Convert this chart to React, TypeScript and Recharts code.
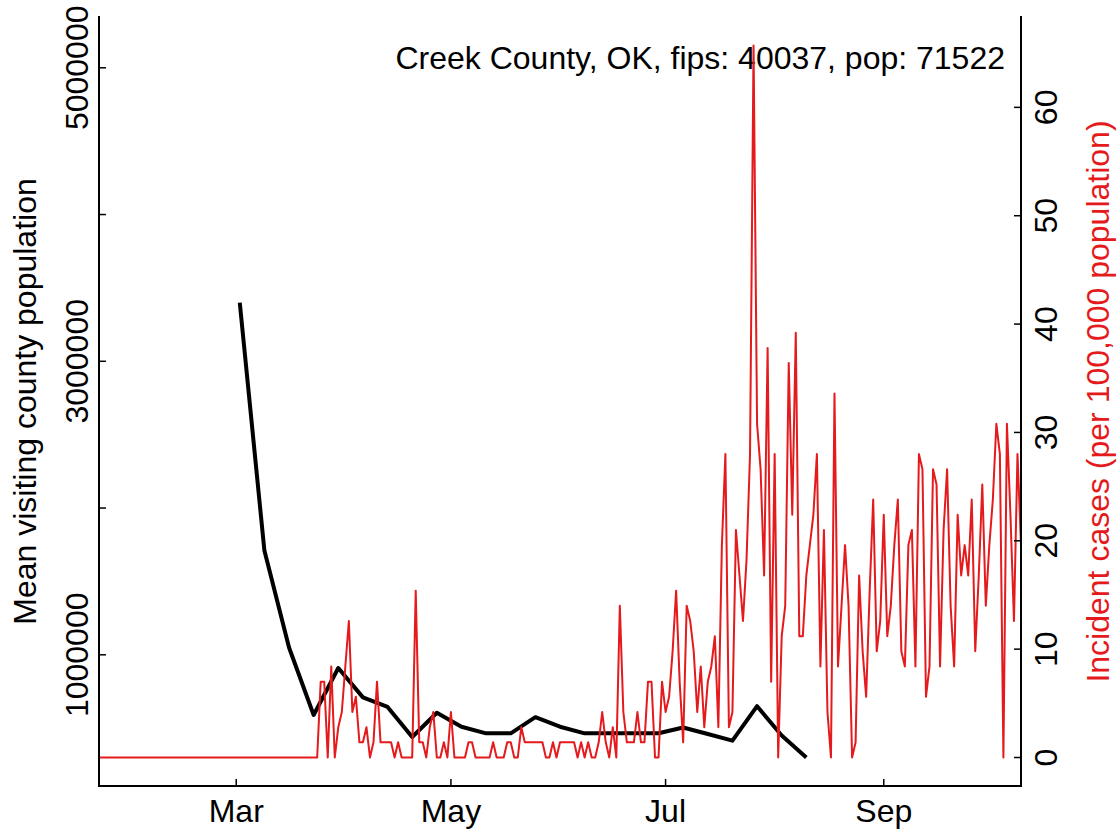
import React from 'react';
import { LineChart, Line, XAxis, YAxis } from 'recharts';

// daily incident cases per 100,000, starting Jan 22 (day 21 of 2020)
const firstDay = 21;
const incidence = [
  0, 0, 0, 0, 0, 0, 0, 0, 0, 0, 0, 0, 0, 0, 0, 0, 0, 0, 0, 0, 0,
  0, 0, 0, 0, 0, 0, 0, 0, 0, 0, 0, 0, 0, 0, 0, 0, 0, 0, 0, 0, 0,
  0, 0, 0, 0, 0, 0, 0, 0, 0, 0, 0, 0, 0, 0, 0, 0, 0, 0, 0, 0, 0,
  7.0, 7.0, 0, 8.4, 0, 2.8, 4.2, 8.4, 12.6, 4.2,
  5.6, 1.4, 1.4, 2.8, 0, 1.4, 7.0, 1.4, 1.4, 1.4,
  1.4, 0, 1.4, 0, 0, 0, 0, 15.4, 1.4, 1.4,
  0, 2.8, 4.2, 0, 0, 1.4, 0, 4.2, 0, 0,
  0, 0, 1.4, 1.4, 0, 0, 0, 0, 0, 1.4,
  0, 0, 0, 1.4, 1.4, 0, 0, 2.8, 1.4, 1.4,
  1.4, 1.4, 1.4, 1.4, 0, 0, 1.4, 0, 1.4, 1.4,
  1.4, 1.4, 1.4, 0, 1.4, 0, 1.4, 0, 0, 1.4,
  4.2, 1.4, 0, 2.8, 0, 14.0, 4.2, 1.4, 1.4, 1.4,
  4.2, 1.4, 1.4, 7.0, 7.0, 0, 0, 7.0, 4.2, 5.6,
  9.8, 15.4, 7.0, 1.4, 14.0, 12.6, 9.8, 4.2, 8.4, 2.8,
  7.0, 8.4, 11.2, 2.8, 19.6, 28.0, 2.8, 4.2, 21.0, 16.8,
  12.6, 18.2, 28.0, 65.7, 30.8, 26.6, 16.8, 37.8, 7.0, 28.0,
  0, 11.2, 14.0, 36.4, 22.4, 39.2, 11.2, 11.2, 16.8, 19.6,
  22.4, 28.0, 8.4, 21.0, 4.2, 0, 33.6, 8.4, 14.0, 19.6,
  14.0, 0, 1.4, 16.8, 9.8, 5.6, 15.4, 23.8, 9.8, 12.6,
  22.4, 11.2, 14.0, 19.6, 23.8, 9.8, 8.4, 19.6, 21.0, 8.4,
  28.0, 26.6, 5.6, 8.4, 26.6, 25.2, 8.4, 21.0, 26.6, 14.0,
  8.4, 22.4, 16.8, 19.6, 16.8, 23.8, 9.8, 16.8, 25.2, 14.0,
  19.6, 23.8, 30.8, 28.0, 0, 30.8, 22.4, 12.6, 28.0, 19.6,
];

// weekly mean visiting county population (Mondays from Mar 2)
const visitDays = [61, 68, 75, 82, 89, 96, 103, 110, 117, 124, 131, 138, 145, 152, 159, 166, 173, 180, 187, 194, 201, 208, 215, 222];
const visitors = [
  3400000, 1710000, 1050000, 590000, 910000, 710000, 645000, 440000, 605000, 510000, 465000, 465000,
  575000, 510000, 465000, 465000, 465000, 465000, 505000, 460000, 415000, 650000, 450000, 300000,
];

const monthTicks = [60, 121, 182, 244];
const monthLabels = ['Mar', 'May', 'Jul', 'Sep'];
const leftTicks = [1000000, 2000000, 3000000, 4000000, 5000000];
const leftLabelled = [1000000, 3000000, 5000000];
const rightTicks = [0, 10, 20, 30, 40, 50, 60];

const rows = incidence.map((v, i) => {
  const day = firstDay + i;
  const w = visitDays.indexOf(day);
  return { day, incidence: v, visitors: w >= 0 ? visitors[w] : null };
});

const RED = '#E41A1C';
const FONT = '"Liberation Sans", Arial, Helvetica, sans-serif';
const FS = 32;

const BottomTick = (props: any) => {
  const { x, y, payload } = props;
  const i = monthTicks.indexOf(payload.value);
  return (
    <g>
      <line x1={x} y1={y} x2={x} y2={y - 7} stroke="#000" strokeWidth={1.5} />
      <text x={x} y={y + 36} textAnchor="middle" fontSize={FS} fontFamily={FONT} fill="#000">
        {monthLabels[i]}
      </text>
    </g>
  );
};

const LeftTick = (props: any) => {
  const { x, y, payload } = props;
  const bx = x - 11;
  return (
    <g>
      <line x1={x} y1={y} x2={x + 7} y2={y} stroke="#000" strokeWidth={1.5} />
      {leftLabelled.includes(payload.value) && (
        <text x={bx} y={y} transform={`rotate(-90, ${bx}, ${y})`} textAnchor="middle" fontSize={FS} fontFamily={FONT} fill="#000">
          {payload.value}
        </text>
      )}
    </g>
  );
};

const RightTick = (props: any) => {
  const { x, y, payload } = props;
  const bx = x + 36;
  return (
    <g>
      <line x1={x} y1={y} x2={x - 7} y2={y} stroke="#000" strokeWidth={1.5} />
      <text x={bx} y={y} transform={`rotate(-90, ${bx}, ${y})`} textAnchor="middle" fontSize={FS} fontFamily={FONT} fill="#000">
        {payload.value}
      </text>
    </g>
  );
};

const axisLine = { stroke: '#000', strokeWidth: 2, strokeLinecap: 'square' as const };

export default function App() {
  const midY = (17 + 786) / 2;
  return (
    <div style={{ position: 'absolute', left: 0, top: 0, width: 1119, height: 829, background: '#fff' }}>
      <LineChart width={1119} height={829} data={rows} margin={{ top: 17, right: 0, bottom: 0, left: 0 }}>
        <XAxis
          dataKey="day"
          type="number"
          domain={[21, 283]}
          allowDataOverflow
          ticks={monthTicks}
          interval={0}
          height={43}
          tickSize={0}
          tickMargin={0}
          tickLine={false}
          axisLine={axisLine}
          tick={<BottomTick />}
        />
        <XAxis xAxisId="top" orientation="top" type="number" domain={[21, 283]} height={0} tick={false} tickLine={false} axisLine={axisLine} />
        <YAxis
          yAxisId="left"
          type="number"
          domain={[106000, 5346000]}
          allowDataOverflow
          ticks={leftTicks}
          interval={0}
          width={99}
          tickSize={0}
          tickMargin={0}
          tickLine={false}
          axisLine={axisLine}
          tick={<LeftTick />}
        />
        <YAxis
          yAxisId="right"
          orientation="right"
          type="number"
          domain={[-2.63, 68.34]}
          allowDataOverflow
          ticks={rightTicks}
          interval={0}
          width={98}
          tickSize={0}
          tickMargin={0}
          tickLine={false}
          axisLine={axisLine}
          tick={<RightTick />}
        />
        <Line
          yAxisId="left"
          dataKey="visitors"
          stroke="#000"
          strokeWidth={4}
          strokeLinejoin="round"
          dot={false}
          connectNulls
          isAnimationActive={false}
        />
        <Line
          yAxisId="right"
          dataKey="incidence"
          stroke={RED}
          strokeWidth={2}
          strokeLinejoin="round"
          dot={false}
          isAnimationActive={false}
        />
        <text x={1005} y={69} textAnchor="end" fontSize={FS} fontFamily={FONT} fill="#000">
          Creek County, OK, fips: 40037, pop: 71522
        </text>
        <text x={36} y={midY} transform={`rotate(-90, 36, ${midY})`} textAnchor="middle" fontSize={FS} fontFamily={FONT} fill="#000">
          Mean visiting county population
        </text>
        <text x={1109} y={midY} transform={`rotate(-90, 1109, ${midY})`} textAnchor="middle" fontSize={FS} fontFamily={FONT} fill={RED}>
          Incident cases (per 100,000 population)
        </text>
      </LineChart>
    </div>
  );
}
